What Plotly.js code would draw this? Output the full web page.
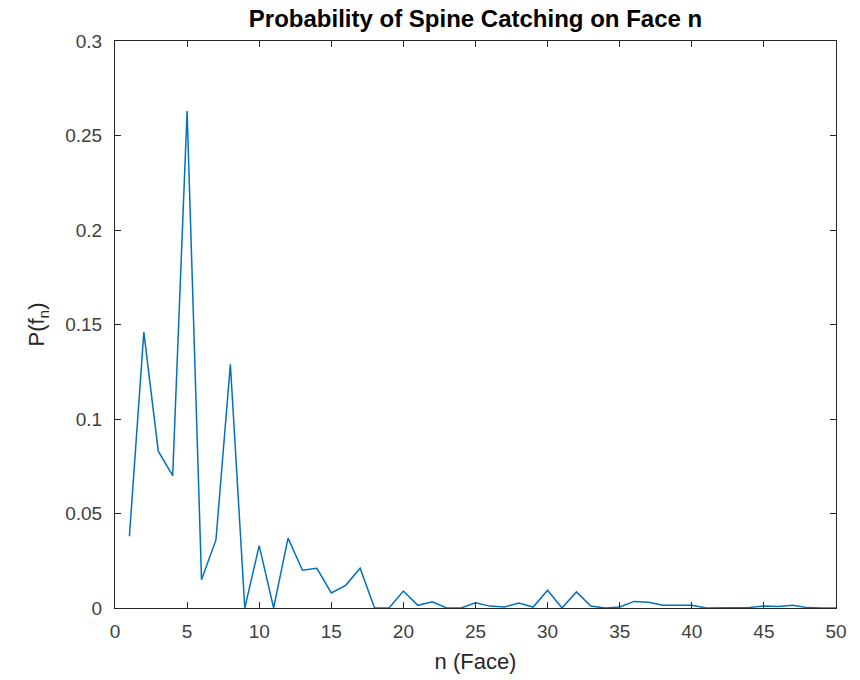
<!DOCTYPE html>
<html>
<head>
<meta charset="utf-8">
<script src="https://cdn.plot.ly/plotly-3.0.1.min.js"></script>
<style>html,body{margin:0;padding:0;background:#fff;}#chart{width:860px;height:680px;}</style>
</head>
<body>
<div id="chart"></div>
<script>
const faces = [];
for (let i = 1; i <= 50; i++) faces.push(i);
const probabilities = [
  0.038, 0.146, 0.083, 0.070, 0.263, 0.015, 0.036, 0.129, 0.000, 0.033,
  0.000, 0.037, 0.020, 0.021, 0.008, 0.012, 0.021, 0.000, 0.000, 0.009,
  0.0014, 0.0033, 0.000, 0.000, 0.0028, 0.001, 0.0005, 0.0026, 0.0005, 0.0094,
  0.000, 0.0085, 0.001, 0.000, 0.0005, 0.0035, 0.003, 0.0015, 0.0015, 0.0015,
  0.000, 0.000, 0.000, 0.0003, 0.001, 0.0008, 0.0015, 0.0002, 0.000, 0.000
];
const xTicks = [0, 5, 10, 15, 20, 25, 30, 35, 40, 45, 50];
const yTicks = [0, 0.05, 0.1, 0.15, 0.2, 0.25, 0.3];
const FONT = 'Liberation Sans, Arial, Helvetica, sans-serif';

const trace = {
  x: faces, y: probabilities, type: 'scatter', mode: 'lines',
  line: {color: '#0072BD', width: 1.5}, hoverinfo: 'none'
};
const axisCommon = {
  showgrid: false, zeroline: false, showline: true, mirror: 'ticks',
  linecolor: '#262626', linewidth: 1, ticks: 'inside', ticklen: 6, tickcolor: '#262626',
  tickfont: {family: FONT, size: 19, color: '#404040'}
};
const layout = {
  width: 860, height: 680,
  margin: {l: 115, r: 24, t: 41, b: 72},
  paper_bgcolor: '#fff', plot_bgcolor: '#fff',
  showlegend: false,
  title: {text: '<b>Probability of Spine Catching on Face n</b>',
    font: {family: FONT, size: 24, color: '#000'},
    x: 0.5, xanchor: 'center', xref: 'paper', y: 1, yref: 'paper', yanchor: 'bottom', pad: {b: 14}},
  xaxis: Object.assign({}, axisCommon, {
    range: [0, 50], tickvals: xTicks, ticktext: xTicks.map(String),
    ticklabelstandoff: 6,
    title: {text: 'n (Face)', font: {family: FONT, size: 22, color: '#262626'}, standoff: 12}
  }),
  yaxis: Object.assign({}, axisCommon, {
    range: [0, 0.3], tickvals: yTicks, ticktext: ['0', '0.05', '0.1', '0.15', '0.2', '0.25', '0.3'],
    ticklabelstandoff: 8,
    title: {text: 'P(f<sub>n</sub>)', font: {family: FONT, size: 22, color: '#262626'}, standoff: 14}
  })
};
Plotly.newPlot('chart', [trace], layout, {staticPlot: true, displayModeBar: false});
</script>
</body>
</html>
